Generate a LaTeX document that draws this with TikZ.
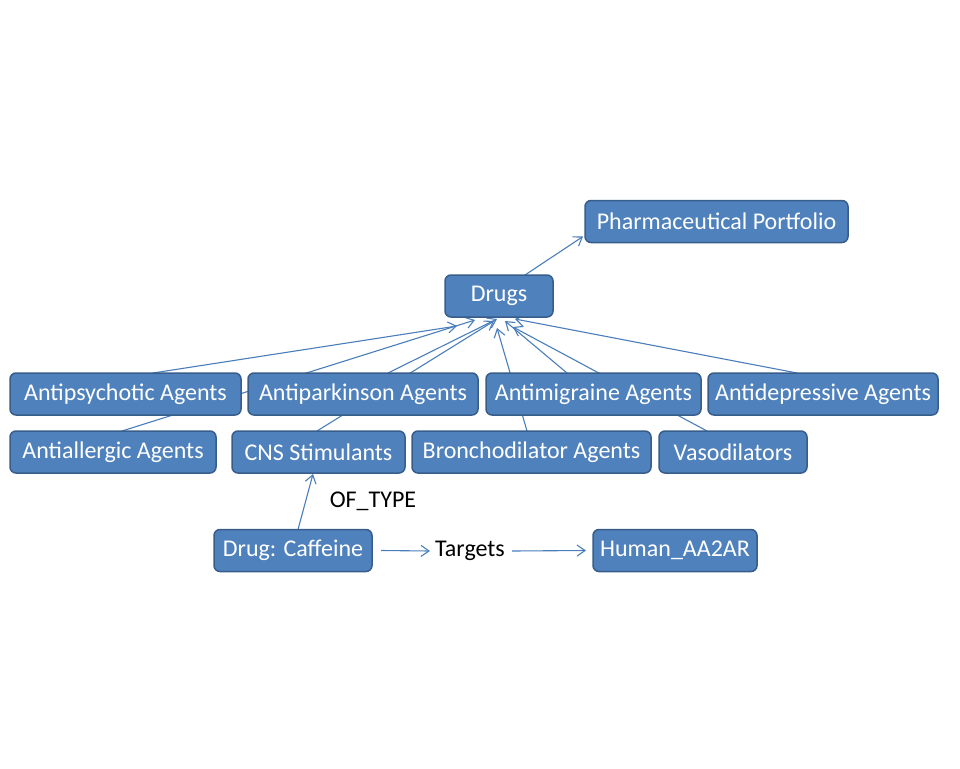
\documentclass[tikz,border=0pt]{standalone}
\usepackage{fontspec}
\setmainfont{Carlito}
\usetikzlibrary{positioning, arrows.meta, backgrounds}
\definecolor{boxBlue}{RGB}{79,129,189}
\definecolor{boxEdge}{RGB}{56,93,138}
\definecolor{lineBlue}{RGB}{74,126,187}
\tikzset{
	classbox/.style={rectangle, draw=boxEdge, line width=1.5pt, rounded corners=6pt,
		fill=boxBlue, text=white, minimum height=42pt, inner sep=2pt, outer sep=0pt,
		font=\fontsize{24}{28}\selectfont},
	isa/.style={-{Straight Barb[length=8pt,width=11pt]}, line width=1.1pt, draw=lineBlue},
	rellabel/.style={font=\fontsize{24}{28}\selectfont, inner sep=1pt}
}

\begin{document}
\begin{tikzpicture}[x=1pt, y=-1pt, node distance=7pt]
	\useasboundingbox (0,0) rectangle (960,768);
	% top of the hierarchy
	\node[classbox, anchor=west, minimum width=263pt] (portfolio) at (585,221.5) {Pharmaceutical Portfolio};
	\node[classbox, anchor=west, minimum width=108pt] (drugs) at (445,296) {Drugs};
	% first row of classes
	\node[classbox, anchor=west, minimum width=231pt] (psych) at (10,394) {Antipsychotic Agents};
	\node[classbox, right=of psych, minimum width=230pt] (park) {Antiparkinson Agents};
	\node[classbox, right=8pt of park, minimum width=215pt] (migr) {Antimigraine Agents};
	\node[classbox, right=of migr, minimum width=230pt] (depr) {Antidepressive Agents};
	% second row of classes
	\node[classbox, anchor=west, minimum width=206pt] (allerg) at (10,452) {Antiallergic Agents};
	\node[classbox, right=16pt of allerg, minimum width=173pt] (cns) {CNS Stimulants};
	\node[classbox, right=of cns, minimum width=239pt] (bronch) {Bronchodilator Agents};
	\node[classbox, right=8pt of bronch, minimum width=148pt] (vaso) {Vasodilators};
	% instance
	\node[classbox, anchor=west, minimum width=158pt] (caffeine) at (214,550.5) {Drug: Caffeine};
	\node[classbox, anchor=west, minimum width=164pt] (human) at (593,550.5) {Human\_AA2AR};
	\node[rellabel] (targets) at (470,551) {Targets};
	\node[rellabel] (oftype) at (373,501) {OF\_TYPE};

	\begin{scope}[on background layer]
		\foreach \src/\sx/\dx/\dy in {psych/27.5/-42/-9, allerg/9/-24/-3, park/25/-2/-2,
			cns/-1.5/-5/-4, bronch/-4.5/-2/-11, migr/-26.5/6/-4, vaso/-26/14/-10, depr/-26/16/-2}
			\draw[isa] ([xshift=\sx pt]\src.north) -- ([xshift=\dx pt, yshift=\dy pt]drugs.south);
		\draw[isa] ([xshift=26pt]drugs.north) -- ([xshift=-2pt, yshift=6pt]portfolio.south west);
		\draw[isa] ([xshift=5pt]caffeine.north) -- ([xshift=-5.5pt, yshift=-1pt]cns.south);
		\draw[isa] ([xshift=9pt]caffeine.east) -- ([xshift=-4pt]targets.west);
		\draw[isa] ([xshift=6pt]targets.east) -- ([xshift=-7pt]human.west);
	\end{scope}
\end{tikzpicture}
\end{document}
